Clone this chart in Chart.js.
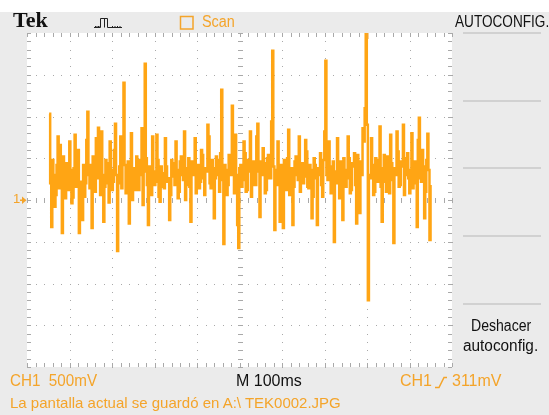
<!DOCTYPE html>
<html><head><meta charset="utf-8">
<script src="https://cdn.jsdelivr.net/npm/chart.js@4"></script>
<style>
html,body{margin:0;padding:0;background:#fff;}
#wrap{position:relative;width:549px;height:415px;overflow:hidden;}
canvas{position:absolute;left:0;top:0;}
.t{position:absolute;white-space:nowrap;line-height:1;font-family:"Liberation Sans",Arial,sans-serif;transform-origin:0 0;color:#111;}
.o{color:#f4a42a;}
</style></head><body>
<div id="wrap">
<canvas id="c" width="549" height="415"></canvas>
<div class="t" style="left:13px;top:9px;font-family:'Liberation Serif',serif;font-weight:bold;font-size:22px;">Tek</div>
<div class="t o" style="left:202px;top:14px;font-size:16px;transform:scaleX(0.9);">Scan</div>
<div class="t" style="left:455px;top:14px;font-size:16px;transform:scaleX(0.85);">AUTOCONFIG.</div>
<div class="t o" style="left:13px;top:192px;font-size:13px;">1</div>
<div class="t" style="left:471px;top:318px;font-size:16px;transform:scaleX(0.88);">Deshacer</div>
<div class="t" style="left:463px;top:338px;font-size:16px;transform:scaleX(0.96);">autoconfig.</div>
<div class="t o" style="left:10px;top:373px;font-size:16px;transform:scaleX(0.95);">CH1&nbsp;&nbsp;500mV</div>
<div class="t" style="left:236px;top:373px;font-size:16px;">M 100ms</div>
<div class="t o" style="left:400px;top:373px;font-size:16px;">CH1</div>
<div class="t o" style="left:452px;top:373px;font-size:16px;">311mV</div>
<div class="t o" style="left:10px;top:395px;font-size:15px;">La pantalla actual se guardó en A:\ TEK0002.JPG</div>
</div>
<script>
// Sample times (ms) of the acquired scan record, 2.5 ms apart, from 52 ms
const startTime = 52;
const sampleStep = 2.5;
// CH1 voltage (mV)
const ch1Values = [
 1032, 200, -324, 480, 300, -80, 60, 420, 760, 140, 660, 260, -396, 520, 180, 20, 440, 300, 120, 700,
 360, -40, 30, 380, 780, 160, 260, 600, -396, 220, 80, -240, 420, 40, 200, 720, 1056, 300, 140, 420,
 -336, 520, 340, 100, 740, 260, 864, 380, 60, 820, 300, -260, 160, 480, 440, 200, -30, 700, 360, 120,
 220, 600, 912, 300, -612, 200, 400, 760, 140, 700, 1404, 420, 80, 300, 460, -280, 240, 800, 0, 360,
 380, 120, 520, 280, 120, 480, 300, 860, -60, 340, 1632, 500, 180, -300, 400, 260, 60, 760, 340, 180,
 220, 780, 480, 40, -20, 400, 320, 160, 140, 740, 400, 220, 260, -240, 60, 480, 440, 280, 180, 700,
 360, 20, 100, 460, 520, 300, 240, 820, 0, 180, 380, 500, 160, -260, 460, 340, 300, 740, 80, 400,
 420, 140, 220, 600, 540, 260, 60, 380, 340, 900, 760, 200, 140, 480, 380, -220, 260, 520, 480, 300,
 100, 560, 1320, 240, -528, 420, 360, 60, 180, 540, 500, 300, 1128, 460, 80, 780, 300, -300, -576, 380,
 420, 160, 240, 700, 560, 100, 120, 480, 340, 820, 40, 280, 460, 180, 180, 760, 912, 340, -204, 460,
 300, 620, 440, 80, 120, 500, 540, 260, 260, 940, 1788, 400, -360, 180, 360, 700, 180, -260, 420, 300,
 -336, 480, 300, 120, 500, 840, 60, 280, 380, -300, 160, 460, 520, 300, 240, 760, 100, 380, 440, 200,
 280, 720, 580, 160, 140, 420, 360, -220, 40, 500, 420, 260, -300, 380, 300, 560, 180, 40, 480, 820,
 1668, 300, 240, 700, 400, 80, 80, 460, -504, 200, 340, 740, 200, 20, 460, 360, -240, 500, 360, 160,
 260, 760, 500, 80, 120, 440, 400, 560, 180, -280, 540, 380, -156, 460, 300, 860, 700, 1100, 2000, 900,
 -1200, 300, 260, 740, 420, 60, 100, 500, 340, 220, 480, 880, 160, -260, 380, 540, 220, 100, 520, 360,
 80, 780, 440, 240, -516, 380, 300, 820, 580, 160, 180, 460, 400, 900, 60, 300, 500, 560, 260, 80,
 360, 800, 140, 420, 460, 200, -324, 720, 984, 260, 220, 600, 400, -220, 100, 480, 792, 360, -480, 180
];
const sampleTimes = ch1Values.map((_, i) => startTime + i * sampleStep);
// Screen: 10 horizontal divisions x 100 ms, 8 vertical divisions x 500 mV
const timeTicks = [0,100,200,300,400,500,600,700,800,900,1000];
const voltTicks = [-2000,-1500,-1000,-500,0,500,1000,1500,2000];
const triggerTime = 800;

const points = ch1Values.map((v, i) => ({x: sampleTimes[i], y: v}));

const scopePlugin = {
  id: 'scope',
  beforeDraw(chart) {
    const {ctx, chartArea: a, width, height} = chart;
    ctx.save();
    ctx.fillStyle = '#ffffff'; ctx.fillRect(0, 0, width, height);
    ctx.fillStyle = '#ebebeb'; ctx.fillRect(0, 12, width, height - 12);
    ctx.fillStyle = '#ffffff'; ctx.fillRect(a.left, a.top, a.right - a.left, a.bottom - a.top);
    ctx.strokeStyle = '#c8c8c8'; ctx.lineWidth = 1.5;
    for (const yy of [33, 101, 168, 236, 304]) {
      ctx.beginPath(); ctx.moveTo(463, yy); ctx.lineTo(541, yy); ctx.stroke();
    }
    ctx.restore();
  },
  beforeDatasetsDraw(chart) {
    const {ctx, chartArea: a, scales: {x, y}} = chart;
    ctx.save();
    ctx.fillStyle = '#a9a9a9';
    const minorT = [], minorV = [];
    for (let t = 0; t <= 1000; t += 20) minorT.push(Math.round(x.getPixelForValue(t)));
    for (let v = -2000; v <= 2000; v += 100) minorV.push(Math.round(y.getPixelForValue(v)));
    timeTicks.slice(1, -1).forEach(t => {
      const px = Math.round(x.getPixelForValue(t));
      minorV.forEach(py => ctx.fillRect(px, py, 1, 1));
    });
    voltTicks.slice(1, -1).forEach(v => {
      const py = Math.round(y.getPixelForValue(v));
      minorT.forEach(px => ctx.fillRect(px, py, 1, 1));
    });
    const cx = Math.round(x.getPixelForValue(500));
    const cy = Math.round(y.getPixelForValue(0));
    minorT.forEach(px => ctx.fillRect(px, cy - 2, 1, 5));
    minorV.forEach(py => ctx.fillRect(cx - 2, py, 5, 1));
    minorT.forEach(px => { ctx.fillRect(px, a.top, 1, 4); ctx.fillRect(px, a.bottom - 4, 1, 4); });
    minorV.forEach(py => { ctx.fillRect(a.left, py, 4, 1); ctx.fillRect(a.right - 4, py, 4, 1); });
    ctx.restore();
  },
  afterDraw(chart) {
    const {ctx, chartArea: a, scales: {x, y}} = chart;
    const orange = '#f4a42a';
    ctx.save();
    const tx = Math.round(x.getPixelForValue(triggerTime)) + 0.5;
    ctx.strokeStyle = orange; ctx.lineWidth = 2;
    ctx.beginPath(); ctx.moveTo(tx, a.top); ctx.lineTo(tx, a.top + 6); ctx.stroke();
    const gy = y.getPixelForValue(0);
    ctx.fillStyle = orange;
    ctx.fillRect(20, gy - 0.5, 4, 1.5);
    ctx.beginPath(); ctx.moveTo(22, gy - 3.5); ctx.lineTo(26.5, gy + 0.2); ctx.lineTo(22, gy + 4); ctx.closePath(); ctx.fill();
    ctx.strokeStyle = orange; ctx.lineWidth = 1.5;
    ctx.strokeRect(180.5, 16.5, 12.5, 12.5);
    ctx.strokeStyle = '#222'; ctx.lineWidth = 1;
    ctx.beginPath();
    ctx.moveTo(94, 27.5); ctx.lineTo(100.5, 27.5); ctx.lineTo(100.5, 18.5); ctx.lineTo(107.5, 18.5);
    ctx.lineTo(107.5, 27.5); ctx.lineTo(110, 27.5); ctx.moveTo(104.5, 18.5); ctx.lineTo(104.5, 27.5);
    ctx.moveTo(110, 27.5); ctx.lineTo(122, 27.5);
    ctx.stroke();
    ctx.fillStyle = '#222';
    for (let i = 0; i < 4; i++) { ctx.fillRect(95 + i * 1.5, 26, 1, 1); ctx.fillRect(112 + i * 2.5, 26, 1, 1); }
    ctx.strokeStyle = orange; ctx.lineWidth = 1.5;
    ctx.beginPath(); ctx.moveTo(435, 387.5); ctx.lineTo(439, 387.5); ctx.lineTo(444, 377.5); ctx.lineTo(447, 377.5); ctx.stroke();
    ctx.restore();
  }
};

new Chart(document.getElementById('c'), {
  type: 'line',
  data: {
    datasets: [{
      label: 'CH1',
      data: points,
      borderColor: '#ffa514',
      borderWidth: 2.5,
      stepped: true,
      pointRadius: 0,
      fill: false
    }]
  },
  options: {
    responsive: false,
    animation: false,
    devicePixelRatio: 1,
    layout: {padding: {left: 27, right: 97, top: 33, bottom: 48}},
    plugins: {legend: {display: false}, tooltip: {enabled: false}},
    scales: {
      x: {type: 'linear', min: 0, max: 1000, display: false},
      y: {type: 'linear', min: -2000, max: 2000, display: false}
    }
  },
  plugins: [scopePlugin]
});
</script>
</body></html>
